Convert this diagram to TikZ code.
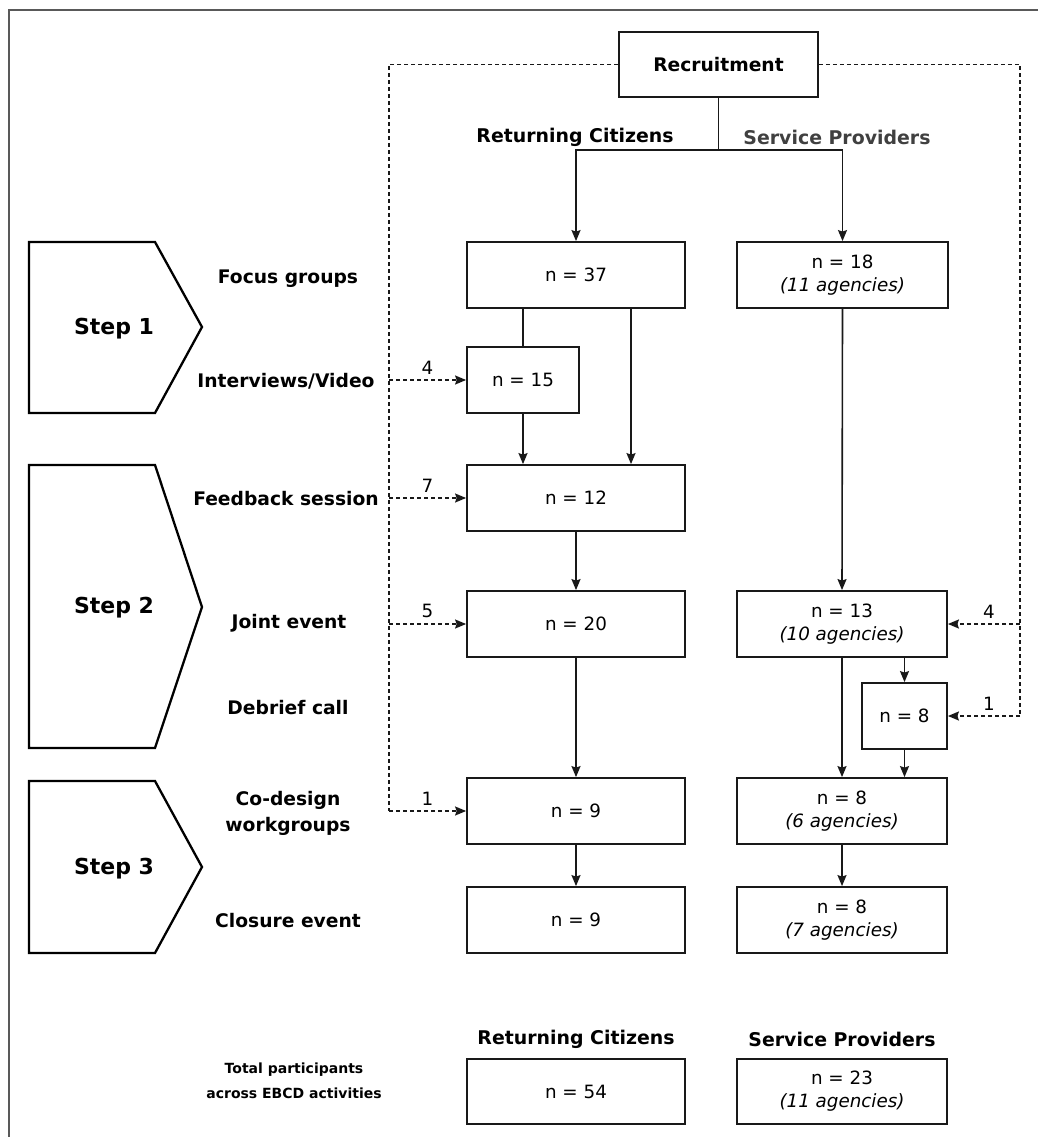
\documentclass[tikz,border=0pt]{standalone}
\usepackage{fontspec}
\setmainfont{DejaVu Sans}
\usetikzlibrary{arrows.meta,calc}
\tikzset{
  box/.style={draw=black!90, line width=1.8pt, minimum height=66pt, inner sep=0pt, align=center, font=\fontsize{18.3}{23}\selectfont},
  wbox/.style={box, minimum width=218pt},
  sbox/.style={box, minimum width=210pt},
  lab/.style={font=\bfseries\fontsize{18.7}{26}\selectfont, align=center, inner sep=0pt},
  hlab/.style={font=\bfseries\fontsize{18.9}{22}\selectfont, inner sep=0pt},
  steplab/.style={font=\bfseries\fontsize{22}{26}\selectfont, inner sep=0pt},
  num/.style={font=\fontsize{18.3}{20}\selectfont, inner sep=2pt},
  conn/.style={line width=1.6pt, draw=black!90},
  arr/.style={conn, -{Stealth[length=11pt,width=9pt,inset=1.5pt]}},
  dsh/.style={line width=1.5pt, draw=black!90, dash pattern=on 4pt off 3pt},
  darr/.style={dsh, -{Stealth[length=11pt,width=9pt,inset=1.5pt]}},
  pent/.style={draw=black, line width=2.3pt, line join=miter},
}
\begin{document}
\begin{tikzpicture}[x=1pt,y=-1pt]
\useasboundingbox (0,0) rectangle (1038,1137);
\fill[white] (0,0) rectangle (1038,1137);
% outer frame (cropped at right and bottom)
\draw[line width=1.8pt, draw=black!65] (9,1140) -- (9,10) -- (1040,10);

% step pentagons
\draw[pent] (29,242) -- (155,242) -- (202,327) -- (155,413) -- (29,413) -- cycle;
\draw[pent] (29,465) -- (155,465) -- (202,607) -- (155,748) -- (29,748) -- cycle;
\draw[pent] (29,781) -- (155,781) -- (202,867) -- (155,953) -- (29,953) -- cycle;
\node[steplab] (s1) at (114,329) {Step 1};
\node[steplab] (s2) at (114,608) {Step 2};
\node[steplab] (s3) at (114,869) {Step 3};

% activity labels
\node[lab] (lfg) at (288,279) {Focus groups};
\node[lab] (liv) at (286,381) {Interviews/Video};
\node[lab] (lfb) at (286,499) {Feedback session};
\node[lab] (lje) at (289,623) {Joint event};
\node[lab] (ldc) at (288,708) {Debrief call};
\node[lab] (lcd) at (288,813) {Co-design\\workgroups};
\node[lab] (lce) at (288,921) {Closure event};
\node[font=\bfseries\fontsize{14}{25}\selectfont, align=center, inner sep=0pt] (ltot) at (294,1081) {Total participants\\across EBCD activities};

% recruitment
\node[box, minimum width=199pt, minimum height=65pt, font=\bfseries\fontsize{18.7}{22}\selectfont] (rec) at (718.5,64.5) {Recruitment};
\node[hlab] (hrc) at (575,137) {Returning Citizens};
\node[hlab, text=black!75] (hsp) at (837,137) {Service Providers};

% boxes
\node[wbox] (n37) at (576,275) {n = 37};
\node[sbox, minimum width=211pt] (n18) at (842.5,275) {n = 18\\\textit{(11 agencies)}};
\node[box, minimum width=112pt] (n15) at (523,380) {n = 15};
\node[wbox] (n12) at (576,498) {n = 12};
\node[wbox] (n20) at (576,624) {n = 20};
\node[sbox] (n13) at (842,624) {n = 13\\\textit{(10 agencies)}};
\node[box, minimum width=85pt] (n8d) at (904.5,716) {n = 8};
\node[wbox] (cdrc) at (576,811) {n = 9};
\node[sbox] (cdsp) at (842,811) {n = 8\\\textit{(6 agencies)}};
\node[wbox] (clrc) at (576,920) {n = 9};
\node[sbox] (clsp) at (842,920) {n = 8\\\textit{(7 agencies)}};

% totals
\node[hlab] (trc) at (576,1039) {Returning Citizens};
\node[hlab] (tsp) at (842,1039) {Service Providers};
\node[wbox, minimum height=65pt] (totrc) at (576,1091.5) {n = 54};
\node[sbox, minimum height=65pt] (totsp) at (842,1091.5) {n = 23\\\textit{(11 agencies)}};

% recruitment branches
\coordinate (bj) at (718.5,150);
\draw[conn] (rec.south) -- (bj);
\draw[arr] (bj) -| (n37.north);
\draw[arr] (bj) -| (n18.north);

% returning citizens flow
\draw[conn] (n15.north |- n37.south) -- (n15.north);
\draw[arr] (n15.south) -- (n15.south |- n12.north);
\draw[arr] ([xshift=55pt]n37.south) -- ([xshift=55pt]n12.north);
\draw[arr] (n12.south) -- (n20.north);
\draw[arr] (n20.south) -- (cdrc.north);
\draw[arr] (cdrc.south) -- (clrc.north);

% service providers flow
\draw[arr] (n18.south) -- (n13.north);
\draw[arr] (n13.south) -- (cdsp.north);
\draw[arr] (n8d.north |- n13.south) -- (n8d.north);
\draw[arr] (n8d.south) -- (n8d.south |- cdsp.north);
\draw[arr] (cdsp.south) -- (clsp.north);

% dashed recruitment paths
\coordinate (ltop) at (389,64.5);
\coordinate (rtop) at (1020,64.5);
\draw[dsh] (rec.west) -- (ltop) -- (ltop |- cdrc.west);
\draw[dsh] (rec.east) -- (rtop) -- (rtop |- n8d.east);
\draw[darr] (ltop |- n15.west) -- node[num, above=3pt] {4} (n15.west);
\draw[darr] (ltop |- n12.west) -- node[num, above=3pt] {7} (n12.west);
\draw[darr] (ltop |- n20.west) -- node[num, above=3pt] {5} (n20.west);
\draw[darr] (ltop |- cdrc.west) -- node[num, above=3pt] {1} (cdrc.west);
\draw[darr] (rtop |- n13.east) -- node[num, above=3pt, xshift=5pt] {4} (n13.east);
\draw[darr] (rtop |- n8d.east) -- node[num, above=3pt, xshift=5pt] {1} (n8d.east);
\end{tikzpicture}
\end{document}
